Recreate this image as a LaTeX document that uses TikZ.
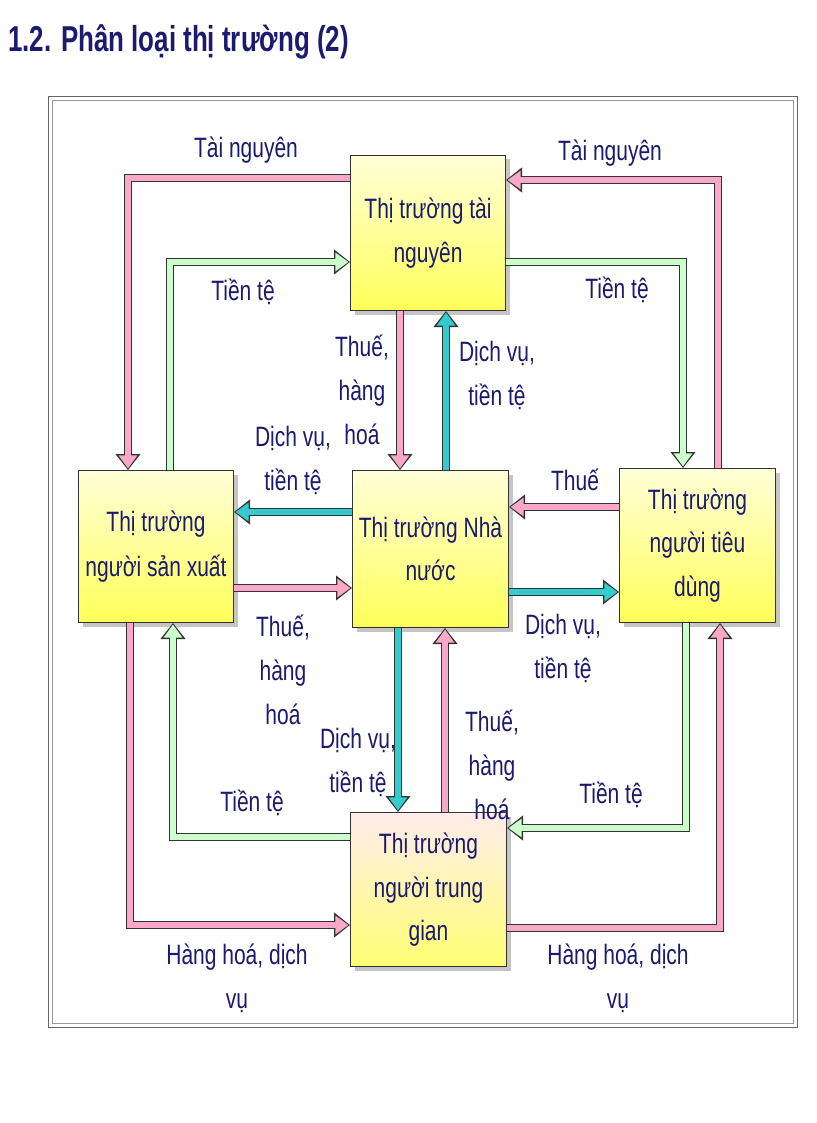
\documentclass[tikz,border=0pt]{standalone}
\usepackage{fontspec}
\setmainfont{Liberation Sans}
\usetikzlibrary{arrows.meta,calc,shadows}
\definecolor{navy}{HTML}{1A1A6E}
\definecolor{pk}{HTML}{F9A8C8}
\definecolor{gr}{HTML}{CCFFCC}
\definecolor{cy}{HTML}{33CCCC}
\definecolor{ol}{HTML}{333333}
\tikzset{
 box/.style={draw=ol,line width=1pt,inner sep=0pt,anchor=north west,align=center,
   text=navy,font=\fontsize{28}{44}\selectfont,top color=yellow!15,bottom color=yellow!65,
   drop shadow={shadow xshift=4pt,shadow yshift=-4pt,fill=black!45}},
 fat/.style={line width=6pt,draw=#1,line join=miter,shorten >=1.6pt,
   -{Triangle[length=13pt,width=18pt]},
   preaction={draw=ol,line width=8.5pt,line join=miter,shorten >=0pt,-{Triangle[length=16pt,width=24pt]}}},
 lbl/.style={text=navy,align=center,font=\fontsize{28}{44}\selectfont,xscale=0.75}
}
\newcommand{\bx}[1]{\scalebox{0.75}[1]{\shortstack{#1}}}
\begin{document}
\begin{tikzpicture}[x=1pt,y=-1pt]
\useasboundingbox (0,0) rectangle (816,1123);
\node[anchor=west,inner sep=0pt,text=navy,font=\bfseries\fontsize{36}{40}\selectfont] (title) at (8,42) {\scalebox{0.72}[1]{1.2. Phân loại thị trường (2)}};
\draw[black!60,line width=1pt] (48,97) rectangle (797,1027);
\draw[black!40,line width=1pt] (52,101) rectangle (793,1023);
\node[box,minimum width=155pt,minimum height=155pt] (tn) at (350,155) {\bx{Thị trường tài\\[14pt]nguyên}};
\node[box,minimum width=156pt,minimum height=157pt] (nn) at (352,470) {\bx{Thị trường Nhà\\[14pt]nước}};
\node[box,minimum width=155pt,minimum height=152pt] (sx) at (78,470) {\bx{Thị trường\\[14pt]người sản xuất}};
\node[box,minimum width=156pt,minimum height=154pt] (td) at (619,468) {\bx{Thị trường\\[14pt]người tiêu\\[14pt]dùng}};
\node[box,minimum width=156pt,minimum height=154pt,top color=pink!30,bottom color=yellow!55] (tg) at (350,812) {\bx{Thị trường\\[14pt]người trung\\[14pt]gian}};
% connector points
\coordinate (a1) at ($(tn.north west)+(0,23)$);
\coordinate (b1) at ($(sx.north west)+(50,0)$);
\coordinate (a2) at ($(sx.north west)+(92,0)$);
\coordinate (b2) at ($(tn.north west)+(0,107)$);
\coordinate (a3) at ($(td.north west)+(99,0)$);
\coordinate (b3) at ($(tn.north east)+(0,25)$);
\coordinate (a4) at ($(tn.north east)+(0,107)$);
\coordinate (b4) at ($(td.north west)+(64,0)$);
\coordinate (a5) at ($(tn.south west)+(50,0)$);
\coordinate (a6) at ($(nn.north west)+(94,0)$);
\coordinate (a7) at ($(nn.north west)+(0,42)$);
\coordinate (a8) at ($(sx.north east)+(0,118)$);
\coordinate (a9) at ($(td.north west)+(0,39)$);
\coordinate (a10) at ($(nn.north east)+(0,122)$);
\coordinate (a11) at ($(nn.south west)+(46,0)$);
\coordinate (a12) at ($(tg.north west)+(95,0)$);
\coordinate (a13) at ($(tg.north west)+(0,25)$);
\coordinate (b13) at ($(sx.south west)+(95,0)$);
\coordinate (a14) at ($(sx.south west)+(52,0)$);
\coordinate (b14) at ($(tg.north west)+(0,113)$);
\coordinate (a15) at ($(td.south west)+(67,0)$);
\coordinate (b15) at ($(tg.north east)+(0,16)$);
\coordinate (a16) at ($(tg.north east)+(0,116)$);
\coordinate (b16) at ($(td.south west)+(101,0)$);
\draw[fat=pk] (a1) -| (b1);
\draw[fat=gr] (a2) |- (b2);
\draw[fat=pk] (a3) |- (b3);
\draw[fat=gr] (a4) -| (b4);
\draw[fat=pk] (a5) -- (a5 |- nn.north);
\draw[fat=cy] (a6) -- (a6 |- tn.south);
\draw[fat=cy] (a7) -- (a7 -| sx.east);
\draw[fat=pk] (a8) -- (a8 -| nn.west);
\draw[fat=pk] (a9) -- (a9 -| nn.east);
\draw[fat=cy] (a10) -- (a10 -| td.west);
\draw[fat=cy] (a11) -- (a11 |- tg.north);
\draw[fat=pk] (a12) -- (a12 |- nn.south);
\draw[fat=gr] (a13) -| (b13);
\draw[fat=pk] (a14) |- (b14);
\draw[fat=gr] (a15) |- (b15);
\draw[fat=pk] (a16) -| (b16);
% labels
\node[lbl] (l1) at (246,150) {Tài nguyên};
\node[lbl] (l2) at (243,292) {Tiền tệ};
\node[lbl] (l3) at (610,153) {Tài nguyên};
\node[lbl] (l4) at (617,290) {Tiền tệ};
\node[lbl] (l5) at (362,390) {Thuế,\\hàng\\hoá};
\node[lbl] (l6) at (497,375) {Dịch vụ,\\tiền tệ};
\node[lbl] (l7) at (293,460) {Dịch vụ,\\tiền tệ};
\node[lbl] (l8) at (283,670) {Thuế,\\hàng\\hoá};
\node[lbl] (l9) at (575,480) {Thuế};
\node[lbl] (l10) at (563,648) {Dịch vụ,\\tiền tệ};
\node[lbl] (l11) at (358,762) {Dịch vụ,\\tiền tệ};
\node[lbl] (l12) at (492,765) {Thuế,\\hàng\\hoá};
\node[lbl] (l13) at (252,803) {Tiền tệ};
\node[lbl] (l14) at (237,978) {Hàng hoá, dịch\\vụ};
\node[lbl] (l15) at (611,795) {Tiền tệ};
\node[lbl] (l16) at (618,978) {Hàng hoá, dịch\\vụ};
\end{tikzpicture}
\end{document}
